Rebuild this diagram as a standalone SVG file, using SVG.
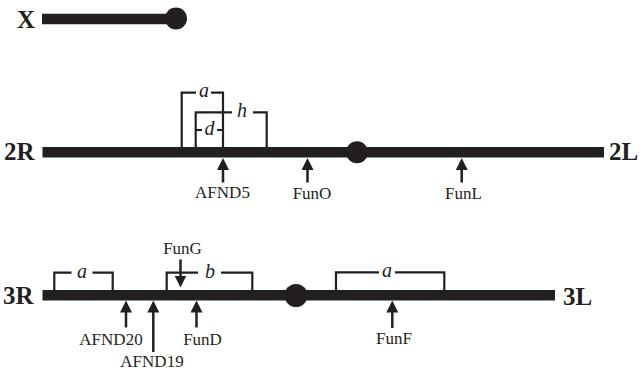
<svg xmlns="http://www.w3.org/2000/svg" width="642" height="373" viewBox="0 0 642 373">
<style>
.chr{stroke:#231f20;stroke-width:10.5;fill:none}
.cen{fill:#231f20}
.arm{font-family:"Liberation Serif","Times New Roman",serif;font-weight:bold;font-size:25px;fill:#231f20}
.lbl{font-family:"Liberation Serif","Times New Roman",serif;font-size:17px;fill:#231f20;text-anchor:middle}
.br{stroke:#231f20;stroke-width:2.2;fill:none}
.bl{font-family:"Liberation Serif","Times New Roman",serif;font-style:italic;font-size:20px;fill:#231f20;text-anchor:middle}
.arr{stroke:#231f20;stroke-width:2.5;fill:none;marker-end:url(#ah)}
</style>
<defs>
<marker id="ah" markerUnits="userSpaceOnUse" markerWidth="12" markerHeight="12" viewBox="0 0 12 12" refX="4" refY="6" orient="auto">
<path d="M0,0 L12,6 L0,12 z" fill="#231f20"/>
</marker>
</defs>
<rect width="642" height="373" fill="#fff"/>

<g id="chrX">
<line class="chr" x1="42" y1="19" x2="176" y2="19"/>
<circle class="cen" cx="176" cy="18.5" r="11"/>
<text class="arm" x="17" y="28">X</text>
</g>

<g id="chr2">
<line class="chr" x1="42.5" y1="152.2" x2="604" y2="152.2"/>
<circle class="cen" cx="357" cy="152.3" r="11"/>
<text class="arm" x="4" y="160">2R</text>
<text class="arm" x="609" y="160">2L</text>
</g>

<g id="chr3">
<line class="chr" x1="42.5" y1="295.3" x2="555" y2="295.3"/>
<circle class="cen" cx="296" cy="295.5" r="11.5"/>
<text class="arm" x="3" y="304">3R</text>
<text class="arm" x="563" y="305">3L</text>
</g>

<g id="region-2R-a">
<path class="br" d="M181.7,147 V92.7 H196 M211,92.7 H223 V147"/>
<text class="bl" x="204" y="97">a</text>
</g>
<g id="region-2R-h">
<path class="br" d="M195.7,147 V112.3 H232 M253,112.3 H266.7 V147"/>
<text class="bl" x="242" y="117">h</text>
</g>
<g id="region-2R-d">
<path class="br" d="M195.7,130 H202 M217,130 H223"/>
<text class="bl" x="209.5" y="135">d</text>
</g>

<g id="region-3R-a">
<path class="br" d="M54.3,290 V272.7 H71.5 M92.5,272.7 H112.7 V290"/>
<text class="bl" x="82" y="277.5">a</text>
</g>
<g id="region-3R-b">
<path class="br" d="M166.7,290 V272.7 H198 M221,272.7 H252.3 V290"/>
<text class="bl" x="210" y="277.5">b</text>
</g>
<g id="region-3L-a">
<path class="br" d="M336,290 V272.3 H379 M395,272.3 H444.3 V290"/>
<text class="bl" x="387" y="277">a</text>
</g>

<g id="connectors">
<line class="arr" x1="223" y1="182.5" x2="223" y2="166"/>
<line class="arr" x1="307.5" y1="182.5" x2="307.5" y2="166"/>
<line class="arr" x1="461.7" y1="182.5" x2="461.7" y2="166"/>
<line class="arr" x1="180.5" y1="259.5" x2="180.5" y2="279.5"/>
<line class="arr" x1="126" y1="327.5" x2="126" y2="308.5"/>
<line class="arr" x1="153.3" y1="352" x2="153.3" y2="308.5"/>
<line class="arr" x1="196.5" y1="327.5" x2="196.5" y2="308.5"/>
<line class="arr" x1="392.3" y1="328" x2="392.3" y2="308.5"/>
</g>

<g id="label-AFND5"><text class="lbl" x="222.5" y="198">AFND5</text></g>
<g id="label-FunO"><text class="lbl" x="312" y="199">FunO</text></g>
<g id="label-FunL"><text class="lbl" x="463.5" y="199">FunL</text></g>
<g id="label-FunG"><text class="lbl" x="182.5" y="253.5">FunG</text></g>
<g id="label-AFND20"><text class="lbl" x="111" y="345">AFND20</text></g>
<g id="label-AFND19"><text class="lbl" x="152" y="366.5">AFND19</text></g>
<g id="label-FunD"><text class="lbl" x="202.5" y="345">FunD</text></g>
<g id="label-FunF"><text class="lbl" x="394" y="344">FunF</text></g>
</svg>
